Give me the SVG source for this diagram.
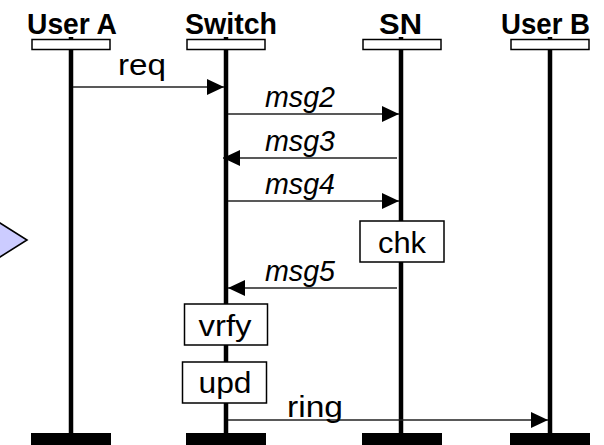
<svg xmlns="http://www.w3.org/2000/svg" width="604" height="445" viewBox="0 0 604 445">
<style>
.title{font-family:"Liberation Sans",Arial,sans-serif;font-weight:bold;font-size:30px;fill:#000;text-anchor:middle}
.lbl{font-family:"Liberation Sans",Arial,sans-serif;font-size:29px;fill:#000;text-anchor:middle}
.it{font-style:italic}
.life{stroke:#000;stroke-width:4.5;fill:none}
.head{fill:#fff;stroke:#000;stroke-width:1.5}
.foot{fill:#000}
.box{fill:#fff;stroke:#000;stroke-width:1.5}
.msg{stroke:#222;stroke-width:1.6;fill:none;marker-end:url(#ah)}
</style>
<defs>
<marker id="ah" markerUnits="userSpaceOnUse" viewBox="0 0 17 16" refX="17" refY="8" markerWidth="17" markerHeight="16" orient="auto">
<path d="M0,0 L17,8 L0,16 Z" fill="#000"/>
</marker>
</defs>
<rect width="604" height="445" fill="#fff"/>
<polygon points="-8,218 27,240 -8,262" fill="#ccccff" stroke="#000" stroke-width="1.6"/>
<g id="userA">
<line class="life" x1="71" y1="37" x2="71" y2="436"/>
<rect class="head" x="32" y="39.5" width="78" height="10"/>
<rect class="foot" x="31" y="433" width="80" height="14"/>
<text class="title" x="72" y="34" textLength="90" lengthAdjust="spacingAndGlyphs">User A</text>
</g>
<g id="switch">
<line class="life" x1="226" y1="37" x2="226" y2="436"/>
<rect class="head" x="187" y="39.5" width="78" height="10"/>
<rect class="foot" x="186" y="433" width="80" height="14"/>
<text class="title" x="231" y="34" textLength="92" lengthAdjust="spacingAndGlyphs">Switch</text>
</g>
<g id="sn">
<line class="life" x1="401" y1="37" x2="401" y2="436"/>
<rect class="head" x="363" y="39.5" width="78" height="10"/>
<rect class="foot" x="362" y="433" width="80" height="14"/>
<text class="title" x="400.5" y="34" textLength="43" lengthAdjust="spacingAndGlyphs">SN</text>
</g>
<g id="userB">
<line class="life" x1="550" y1="37" x2="550" y2="436"/>
<rect class="head" x="511" y="39.5" width="78" height="10"/>
<rect class="foot" x="510" y="433" width="80" height="14"/>
<text class="title" x="545.5" y="34" textLength="89" lengthAdjust="spacingAndGlyphs">User B</text>
</g>
<g id="connectors">
<line class="msg" x1="73" y1="87" x2="224" y2="87"/>
<line class="msg" x1="228" y1="114" x2="399" y2="114"/>
<line class="msg" x1="397" y1="158" x2="223" y2="158"/>
<line class="msg" x1="228" y1="201" x2="399" y2="201"/>
<line class="msg" x1="397" y1="288" x2="228" y2="288"/>
<line class="msg" x1="228" y1="420" x2="548" y2="420"/>
<text class="lbl" x="142" y="75" textLength="48" lengthAdjust="spacingAndGlyphs">req</text>
<text class="lbl it" x="300" y="107" textLength="70" lengthAdjust="spacingAndGlyphs">msg2</text>
<text class="lbl it" x="300" y="151" textLength="70" lengthAdjust="spacingAndGlyphs">msg3</text>
<text class="lbl it" x="300" y="194" textLength="70" lengthAdjust="spacingAndGlyphs">msg4</text>
<text class="lbl it" x="300" y="281" textLength="70" lengthAdjust="spacingAndGlyphs">msg5</text>
<text class="lbl" x="315" y="417" textLength="56" lengthAdjust="spacingAndGlyphs">ring</text>
</g>
<g id="chk">
<rect class="box" x="360" y="221" width="84" height="41"/>
<text class="lbl" x="402" y="253" textLength="48" lengthAdjust="spacingAndGlyphs">chk</text>
</g>
<g id="vrfy">
<rect class="box" x="184.5" y="304" width="83" height="41"/>
<text class="lbl" x="225" y="336" textLength="53" lengthAdjust="spacingAndGlyphs">vrfy</text>
</g>
<g id="upd">
<rect class="box" x="182.5" y="362" width="84" height="41"/>
<text class="lbl" x="225" y="393" textLength="53" lengthAdjust="spacingAndGlyphs">upd</text>
</g>
</svg>
